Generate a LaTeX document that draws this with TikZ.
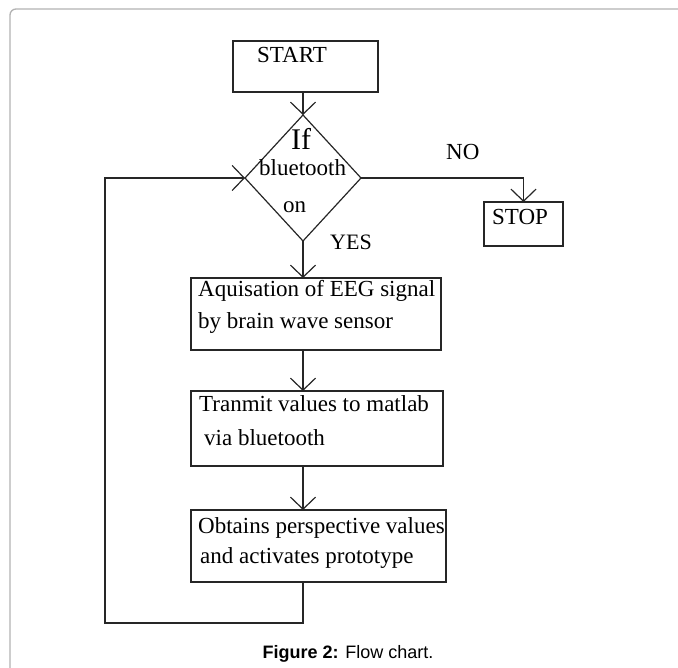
\documentclass[tikz,border=0pt]{standalone}
\usepackage{fontspec}
\setmainfont{Liberation Serif}
\newfontfamily\capfont{Liberation Sans}
\usetikzlibrary{arrows.meta,shapes.geometric,calc}
\begin{document}
\begin{tikzpicture}[x=1pt,y=-1pt,
  box/.style={draw=black!85, line width=1.2pt, rectangle, inner sep=0pt, outer sep=0pt},
  txt/.style={inner sep=0pt, anchor=base west, font=\fontsize{23}{26}\selectfont},
  flow/.style={draw=black!85, line width=1.2pt, -{Straight Barb[length=12pt,width=25pt]}}]
\useasboundingbox (0,0) rectangle (678,668);
% outer frame
\draw[black!30, line width=1.3pt, rounded corners=6pt] (10,668) -- (10,9) -- (678,9);
% boxes
\node[box, minimum width=145pt, minimum height=51pt] (start) at (305.5,66.5) {};
\node[draw=black!85, line width=1.2pt, diamond, inner sep=0pt, outer sep=0pt,
      minimum width=116pt, minimum height=126pt] (dia) at (303,178) {};
\node[box, minimum width=79pt, minimum height=44pt] (stop) at (523.5,224) {};
\node[box, minimum width=250pt, minimum height=72pt] (acq) at (316,314) {};
\node[box, minimum width=252pt, minimum height=75pt] (tra) at (317,428.5) {};
\node[box, minimum width=255pt, minimum height=72pt] (obt) at (318.5,546) {};
% texts
\node[txt] (tstart) at (257,63) {START};
\node[txt, font=\fontsize{30}{32}\selectfont] (tif) at (291,150) {If};
\node[txt] (tbt) at (259,176) {bluetooth};
\node[txt] (ton) at (283,213) {on};
\node[txt] (tno) at (446,160) {NO};
\node[txt, font=\fontsize{22}{24}\selectfont] (tyes) at (330,250) {YES};
\node[txt] (tstop) at (492,225) {STOP};
\node[txt] (ta1) at (198,297) {Aquisation of EEG signal};
\node[txt] (ta2) at (198,329) {by brain wave sensor};
\node[txt] (tt1) at (199,412) {Tranmit values to matlab};
\node[txt] (tt2) at (204,446) {via bluetooth};
\node[txt] (to1) at (198,533) {Obtains perspective values};
\node[txt] (to2) at (200,563) {and activates prototype};
\node[anchor=base, inner sep=0pt, font=\capfont\fontsize{18}{20}\selectfont] (cap) at (348,658) {\textbf{Figure 2:} Flow chart.};
% connectors
\coordinate (loopc) at (105,623);
\draw[flow] (start.south -| dia.north) -- (dia.north);
\draw[flow] (dia.south) -- (acq.north -| dia.south);
\draw[flow] (acq.south -| dia.south) -- (tra.north -| dia.south);
\draw[flow] (tra.south -| dia.south) -- (obt.north -| dia.south);
\draw[flow] (dia.east) -| (stop.north);
\draw[flow] (obt.south -| dia.south) |- (loopc) |- (dia.west);
\end{tikzpicture}
\end{document}
